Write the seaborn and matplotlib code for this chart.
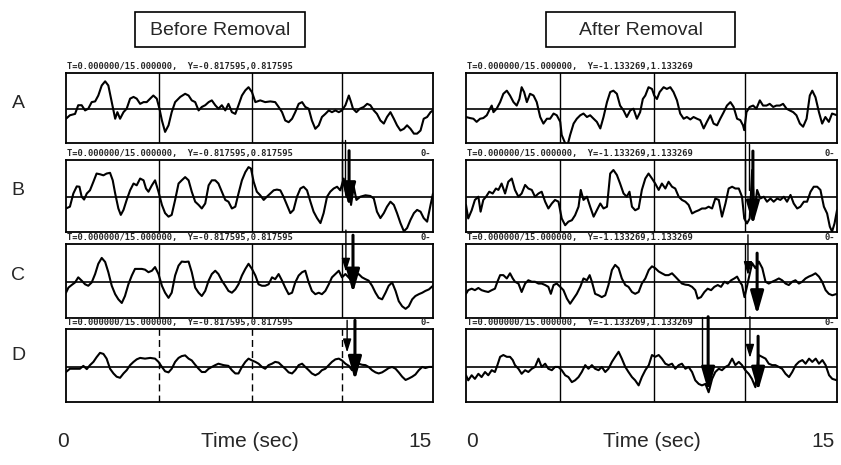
import matplotlib
matplotlib.use("Agg")
import matplotlib.pyplot as plt
import seaborn as sns
import pandas as pd
from matplotlib.patches import Rectangle

# ---------------- data (time in s, amplitude as fraction of full scale) -------------
A_BEFORE = [(0.00,-0.27),(0.16,-0.17),(0.37,-0.13),(0.50,0.12),(0.64,0.12),(0.78,-0.03),(0.91,0.02),
    (1.05,0.21),(1.19,0.23),(1.32,0.40),(1.46,0.69),(1.60,0.81),(1.73,0.69),(1.87,0.21),(2.01,-0.27),
    (2.10,-0.08),(2.21,-0.27),(2.35,-0.08),(2.48,0.02),(2.62,0.31),(2.76,0.36),(2.89,0.31),(3.03,0.16),
    (3.17,0.21),(3.30,0.21),(3.44,0.31),(3.57,0.40),(3.71,0.31),(3.82,0.02),(3.92,-0.32),(4.05,-0.65),
    (4.19,-0.46),(4.32,-0.08),(4.46,0.21),(4.67,0.36),(4.87,0.45),(5.01,0.40),(5.14,0.26),(5.28,0.21),
    (5.42,-0.03),(5.55,0.07),(5.69,0.12),(5.83,0.21),(5.96,0.26),(6.10,0.12),(6.23,0.02),(6.37,0.12),
    (6.51,-0.03),(6.64,0.16),(6.78,-0.08),(6.92,-0.13),(7.05,0.12),(7.19,0.40),(7.33,0.55),(7.46,0.64),
    (7.60,0.50),(7.74,0.21),(7.94,0.26),(8.14,0.21),(8.35,0.23),(8.55,0.21),(8.69,0.07),(8.83,-0.08),
    (8.96,-0.32),(9.10,-0.37),(9.24,-0.27),(9.37,-0.08),(9.51,0.16),(9.65,0.21),(9.78,0.07),(9.92,0.02),
    (10.05,-0.32),(10.19,-0.56),(10.33,-0.46),(10.46,-0.22),(10.60,-0.13),(10.74,-0.03),(10.87,-0.08),
    (11.01,-0.03),(11.15,-0.08),(11.28,-0.03),(11.42,0.12),(11.56,0.40),(11.65,0.21),(11.73,0.02),
    (11.87,-0.08),(12.01,0.02),(12.17,0.07),(12.31,0.16),(12.44,0.12),(12.58,-0.03),(12.71,-0.13),
    (12.85,-0.32),(12.99,-0.41),(13.12,-0.22),(13.26,-0.08),(13.40,-0.27),(13.53,-0.46),(13.67,-0.61),
    (13.81,-0.56),(13.94,-0.46),(14.08,-0.56),(14.22,-0.70),(14.35,-0.70),(14.49,-0.61),(14.62,-0.27),
    (14.76,-0.22),(14.90,-0.08),(15.00,-0.03)]

B_BEFORE = [(0.00,-0.31),(0.16,-0.26),(0.30,0.11),(0.44,0.31),(0.55,0.30),(0.64,0.02),(0.74,-0.06),
    (0.85,0.11),(0.98,0.20),(1.12,0.44),(1.25,0.67),(1.39,0.65),(1.53,0.62),(1.66,0.67),(1.80,0.69),
    (1.91,0.48),(2.01,0.11),(2.14,-0.31),(2.24,-0.49),(2.35,-0.35),(2.48,-0.07),(2.62,0.20),(2.76,0.39),
    (2.89,0.34),(3.03,0.53),(3.17,0.48),(3.27,0.25),(3.37,0.16),(3.51,0.34),(3.64,0.48),(3.78,0.16),
    (3.92,-0.21),(4.05,-0.44),(4.19,-0.54),(4.32,-0.49),(4.46,-0.07),(4.60,0.39),(4.73,0.48),(4.87,0.57),
    (5.01,0.48),(5.14,0.16),(5.28,-0.12),(5.42,-0.21),(5.55,-0.31),(5.69,-0.17),(5.83,0.34),(5.96,0.48),
    (6.10,0.48),(6.23,0.39),(6.37,0.16),(6.51,-0.07),(6.64,-0.12),(6.78,-0.31),(6.92,-0.26),(7.05,0.11),
    (7.19,0.48),(7.33,0.71),(7.46,0.85),(7.56,0.81),(7.67,0.44),(7.80,0.16),(7.94,0.06),(8.08,-0.07),
    (8.21,0.02),(8.35,0.11),(8.49,0.20),(8.62,0.22),(8.76,0.20),(8.89,0.02),(9.03,-0.21),(9.17,-0.44),
    (9.30,-0.35),(9.44,0.02),(9.58,0.25),(9.71,0.30),(9.85,0.20),(9.99,-0.12),(10.12,-0.40),(10.26,-0.58),
    (10.40,-0.72),(10.53,-0.44),(10.67,0.02),(10.80,0.16),(10.94,0.25),(11.08,0.30),(11.21,0.20),
    (11.35,0.53),(11.46,0.02),(11.56,0.39),(11.65,-0.21),(11.76,0.30),(11.87,-0.07),(12.03,0.02),
    (12.24,0.06),(12.44,0.04),(12.58,-0.03),(12.71,-0.40),(12.85,-0.58),(12.99,-0.44),(13.12,-0.26),
    (13.26,-0.12),(13.40,-0.21),(13.53,-0.44),(13.67,-0.72),(13.81,-0.95),(13.94,-0.86),(14.08,-0.63),
    (14.22,-0.44),(14.35,-0.35),(14.49,-0.40),(14.62,-0.58),(14.76,-0.68),(14.90,-0.21),(15.00,0.11)]

C_BEFORE = [(0.00,-0.28),(0.10,-0.14),(0.23,-0.07),(0.37,0.00),(0.50,0.14),(0.64,0.05),(0.78,-0.05),
    (0.91,-0.09),(1.05,0.00),(1.19,0.23),(1.32,0.51),(1.46,0.67),(1.60,0.56),(1.73,0.28),(1.87,-0.09),
    (2.01,-0.32),(2.14,-0.46),(2.28,-0.56),(2.41,-0.37),(2.55,-0.05),(2.69,0.19),(2.82,0.37),(2.96,0.37),
    (3.10,0.37),(3.23,0.35),(3.37,0.28),(3.51,0.32),(3.64,0.42),(3.78,0.23),(3.92,-0.09),(4.05,-0.28),
    (4.19,-0.42),(4.32,-0.28),(4.46,0.19),(4.60,0.46),(4.73,0.57),(4.87,0.56),(5.01,0.57),(5.14,0.28),
    (5.28,-0.14),(5.42,-0.28),(5.55,-0.37),(5.69,-0.23),(5.83,0.05),(5.96,0.23),(6.10,0.32),(6.23,0.23),
    (6.37,0.05),(6.51,-0.09),(6.64,-0.23),(6.78,-0.28),(6.92,-0.19),(7.05,-0.05),(7.19,0.19),(7.33,0.37),
    (7.46,0.51),(7.60,0.37),(7.74,0.19),(7.87,-0.05),(8.01,-0.09),(8.14,-0.09),(8.28,-0.05),(8.42,0.14),
    (8.55,0.09),(8.69,0.23),(8.83,0.05),(8.96,-0.14),(9.10,-0.32),(9.24,-0.28),(9.37,0.00),(9.51,0.19),
    (9.65,0.28),(9.78,0.32),(9.92,0.00),(10.05,-0.23),(10.19,-0.32),(10.33,-0.28),(10.46,-0.32),
    (10.60,-0.23),(10.74,-0.05),(10.87,0.14),(11.01,0.23),(11.15,0.32),(11.28,0.14),(11.42,0.23),
    (11.62,0.09),(11.83,0.19),(11.96,0.23),(12.10,0.14),(12.24,0.09),(12.37,0.05),(12.51,-0.09),
    (12.65,-0.28),(12.78,-0.42),(12.92,-0.46),(13.06,-0.28),(13.19,-0.09),(13.33,0.00),(13.47,-0.23),
    (13.60,-0.51),(13.74,-0.65),(13.88,-0.72),(14.01,-0.65),(14.15,-0.46),(14.28,-0.37),(14.42,-0.32),
    (14.56,-0.28),(14.69,-0.23),(14.83,-0.19),(15.00,-0.09)]

D_BEFORE = [(0.00,-0.14),(0.16,-0.05),(0.37,-0.05),(0.57,-0.05),(0.71,0.03),(0.85,-0.06),(0.98,0.05),
    (1.12,0.14),(1.25,0.27),(1.39,0.39),(1.53,0.36),(1.66,0.23),(1.80,-0.05),(1.94,-0.18),(2.07,-0.27),
    (2.21,-0.30),(2.35,-0.18),(2.48,-0.09),(2.62,0.05),(2.76,0.14),(2.89,0.21),(3.03,0.25),(3.23,0.23),
    (3.44,0.25),(3.64,0.23),(3.78,0.14),(3.92,0.00),(4.05,-0.12),(4.19,-0.15),(4.32,-0.05),(4.46,0.14),
    (4.60,0.25),(4.73,0.30),(4.87,0.32),(5.01,0.23),(5.14,0.18),(5.28,0.06),(5.42,-0.05),(5.55,-0.14),
    (5.69,-0.14),(5.83,-0.05),(5.96,0.00),(6.10,0.05),(6.23,0.09),(6.44,0.05),(6.64,0.03),(6.78,-0.09),
    (6.92,-0.18),(7.05,-0.18),(7.19,0.00),(7.33,0.14),(7.46,0.23),(7.60,0.18),(7.74,0.14),(7.87,0.09),
    (8.01,0.00),(8.14,-0.05),(8.28,0.05),(8.42,0.09),(8.55,0.14),(8.69,0.12),(8.83,0.03),(8.96,-0.05),
    (9.10,-0.15),(9.24,-0.18),(9.37,-0.09),(9.51,0.05),(9.65,0.09),(9.78,0.00),(9.92,-0.09),(10.05,-0.18),
    (10.19,-0.23),(10.33,-0.18),(10.46,-0.09),(10.60,-0.05),(10.74,0.05),(10.87,0.14),(11.01,0.21),
    (11.15,0.23),(11.28,0.18),(11.42,0.09),(11.56,0.03),(11.69,-0.09),(11.83,0.05),(11.96,0.09),
    (12.10,0.06),(12.24,0.05),(12.37,0.00),(12.51,-0.09),(12.65,-0.15),(12.78,-0.18),(12.92,-0.15),
    (13.06,-0.09),(13.19,-0.03),(13.33,0.00),(13.47,-0.05),(13.60,-0.15),(13.74,-0.27),(13.88,-0.36),
    (14.01,-0.32),(14.15,-0.27),(14.28,-0.21),(14.42,-0.09),(14.56,0.00),(14.69,-0.03),(14.83,0.00),
    (15.00,0.00)]

A_AFTER = [(0.00,-0.22),(0.16,-0.25),(0.30,-0.27),(0.43,-0.36),(0.57,-0.27),(0.70,-0.25),(0.84,-0.17),
    (0.97,0.02),(1.04,0.11),(1.11,-0.08),(1.24,0.02),(1.38,0.21),(1.51,0.45),(1.65,0.54),(1.78,0.40),
    (1.92,0.21),(2.05,0.11),(2.16,0.30),(2.25,0.64),(2.35,0.50),(2.46,0.21),(2.59,0.45),(2.73,0.40),
    (2.86,0.21),(3.00,-0.22),(3.13,-0.41),(3.27,-0.27),(3.40,-0.27),(3.54,-0.12),(3.67,-0.17),(3.81,-0.36),
    (3.87,-0.74),(4.01,-0.98),(4.10,-1.05),(4.21,-0.74),(4.35,-0.41),(4.48,-0.27),(4.62,-0.17),(4.75,-0.12),
    (4.89,-0.22),(5.02,-0.17),(5.16,-0.27),(5.29,-0.36),(5.43,-0.55),(5.56,-0.22),(5.70,0.21),(5.83,0.50),
    (5.96,0.54),(6.10,0.45),(6.23,0.11),(6.37,-0.03),(6.50,-0.22),(6.64,-0.03),(6.77,0.02),(6.91,-0.27),
    (7.04,-0.08),(7.15,0.30),(7.25,0.40),(7.38,0.64),(7.52,0.59),(7.61,0.40),(7.72,0.30),(7.83,0.50),
    (7.99,0.64),(8.12,0.59),(8.26,0.64),(8.39,0.50),(8.53,0.26),(8.66,-0.12),(8.80,-0.27),(8.93,-0.22),
    (9.07,-0.29),(9.20,-0.22),(9.34,-0.27),(9.47,-0.31),(9.61,-0.55),(9.74,-0.36),(9.88,-0.17),
    (10.01,-0.41),(10.15,-0.46),(10.28,-0.27),(10.42,-0.08),(10.55,0.11),(10.69,0.21),(10.82,0.07),
    (10.96,-0.27),(11.09,-0.31),(11.20,-0.46),(11.25,-0.60),(11.34,-0.08),(11.47,0.07),(11.61,0.11),
    (11.74,0.02),(11.88,0.26),(12.01,0.11),(12.15,0.11),(12.28,0.16),(12.42,0.07),(12.55,0.11),
    (12.69,0.11),(12.82,0.16),(12.96,0.02),(13.09,-0.03),(13.23,-0.08),(13.36,-0.17),(13.50,-0.41),
    (13.63,-0.50),(13.77,-0.27),(13.90,0.40),(14.00,0.54),(14.13,0.35),(14.27,-0.08),(14.40,-0.41),
    (14.53,-0.22),(14.67,-0.36),(14.80,-0.12),(15.00,-0.17)]

B_AFTER = [(0.00,-0.21),(0.09,-0.59),(0.23,-0.36),(0.36,-0.07),(0.50,0.02),(0.59,-0.40),(0.70,-0.07),
    (0.81,0.02),(0.94,0.16),(1.08,0.11),(1.21,0.25),(1.31,0.21),(1.44,0.39),(1.58,0.11),(1.71,0.44),
    (1.85,0.53),(1.98,0.21),(2.12,0.02),(2.25,0.11),(2.39,0.35),(2.52,0.25),(2.66,0.21),(2.79,0.02),
    (2.93,0.11),(3.06,0.16),(3.20,-0.12),(3.33,-0.31),(3.47,-0.17),(3.60,-0.07),(3.74,-0.12),(3.87,-0.59),
    (4.01,-0.78),(4.14,-0.68),(4.28,-0.64),(4.41,-0.50),(4.55,-0.26),(4.64,0.21),(4.75,-0.07),(4.89,0.02),
    (5.02,-0.26),(5.16,-0.54),(5.29,-0.36),(5.43,-0.17),(5.56,-0.31),(5.70,-0.26),(5.83,0.67),(5.96,0.77),
    (6.10,0.63),(6.23,0.39),(6.37,0.11),(6.50,0.02),(6.61,0.16),(6.71,-0.26),(6.84,-0.36),(6.98,-0.31),
    (7.11,0.21),(7.25,0.53),(7.38,0.67),(7.52,0.53),(7.65,0.39),(7.79,0.21),(7.92,0.39),(8.06,0.25),
    (8.19,0.44),(8.33,0.30),(8.46,0.25),(8.60,0.02),(8.73,-0.07),(8.87,-0.12),(9.00,-0.21),(9.14,-0.45),
    (9.27,-0.40),(9.41,-0.36),(9.54,-0.31),(9.68,-0.31),(9.81,-0.26),(9.95,-0.31),(10.08,-0.03),
    (10.22,-0.07),(10.35,-0.54),(10.49,-0.17),(10.62,0.25),(10.76,0.30),(10.89,0.25),(11.03,0.25),
    (11.16,0.02),(11.25,-0.59),(11.36,-0.73),(11.47,-0.59),(11.57,0.77),(11.66,-0.45),(11.77,0.21),
    (11.90,-0.03),(12.04,0.02),(12.17,-0.12),(12.31,-0.03),(12.44,-0.12),(12.58,-0.03),(12.71,-0.07),
    (12.85,0.02),(12.98,-0.12),(13.12,0.07),(13.25,-0.17),(13.39,-0.31),(13.52,-0.26),(13.66,-0.12),
    (13.79,-0.12),(13.93,0.16),(14.06,0.30),(14.20,0.30),(14.33,0.21),(14.47,-0.26),(14.60,-0.45),
    (14.71,-0.82),(14.80,-0.96),(14.90,-0.73),(15.00,-0.36)]

C_AFTER = [(0.00,-0.31),(0.09,-0.21),(0.23,-0.17),(0.36,-0.21),(0.50,-0.15),(0.63,-0.21),(0.77,-0.24),
    (0.90,-0.26),(1.04,-0.21),(1.17,-0.17),(1.27,0.02),(1.38,0.20),(1.51,0.20),(1.65,0.11),(1.78,0.25),
    (1.89,0.11),(1.98,0.02),(2.12,-0.03),(2.25,-0.26),(2.39,-0.03),(2.52,0.06),(2.66,0.02),(2.79,0.02),
    (2.93,-0.03),(3.06,-0.03),(3.20,-0.07),(3.33,-0.12),(3.43,-0.31),(3.54,-0.07),(3.67,-0.03),(3.81,-0.12),
    (3.94,-0.21),(4.08,-0.44),(4.21,-0.58),(4.35,-0.44),(4.48,-0.31),(4.62,-0.12),(4.75,0.11),(4.89,0.06),
    (5.00,0.20),(5.09,0.02),(5.22,-0.31),(5.36,-0.35),(5.49,-0.40),(5.63,-0.35),(5.76,-0.07),(5.90,0.34),
    (6.03,0.48),(6.17,0.39),(6.30,0.11),(6.44,-0.07),(6.57,-0.12),(6.71,-0.26),(6.84,-0.31),(6.98,-0.26),
    (7.11,-0.03),(7.25,0.11),(7.39,0.34),(7.52,0.44),(7.65,0.39),(7.79,0.30),(7.92,0.25),(8.06,0.20),
    (8.19,0.20),(8.33,0.25),(8.46,0.16),(8.60,0.06),(8.73,-0.03),(8.87,-0.06),(9.00,-0.07),(9.14,-0.12),
    (9.27,-0.21),(9.37,-0.44),(9.50,-0.40),(9.64,-0.26),(9.77,-0.17),(9.91,-0.21),(10.04,-0.12),
    (10.18,-0.07),(10.31,-0.12),(10.45,0.02),(10.58,-0.03),(10.72,0.06),(10.85,0.11),(10.96,0.16),
    (11.07,0.02),(11.16,-0.07),(11.26,-0.40),(11.34,-0.17),(11.43,0.11),(11.57,0.53),(11.70,0.39),
    (11.84,0.57),(11.98,0.39),(12.11,0.02),(12.24,-0.03),(12.38,0.02),(12.51,0.06),(12.65,0.11),
    (12.78,0.06),(12.92,-0.03),(13.05,-0.07),(13.19,0.02),(13.32,0.06),(13.46,-0.03),(13.59,0.02),
    (13.73,0.11),(13.86,0.16),(14.00,0.20),(14.13,0.25),(14.27,0.16),(14.40,0.02),(14.54,-0.21),
    (14.67,-0.31),(14.81,-0.35),(15.00,-0.31)]

D_AFTER = [(0.00,-0.23),(0.09,-0.37),(0.23,-0.23),(0.36,-0.33),(0.50,-0.19),(0.63,-0.28),(0.77,-0.14),
    (0.90,-0.23),(1.04,-0.09),(1.17,-0.14),(1.27,0.05),(1.38,0.28),(1.51,0.33),(1.65,0.28),(1.78,0.28),
    (1.89,0.19),(1.98,0.05),(2.12,-0.05),(2.25,-0.19),(2.39,-0.09),(2.52,-0.14),(2.66,-0.05),(2.79,0.00),
    (2.93,0.23),(3.06,0.00),(3.20,0.09),(3.33,-0.05),(3.47,-0.09),(3.60,0.00),(3.74,0.00),(3.87,-0.09),
    (4.01,-0.23),(4.14,-0.28),(4.28,-0.42),(4.41,-0.37),(4.55,-0.28),(4.68,-0.14),(4.82,0.05),(4.95,-0.05),
    (5.09,0.05),(5.22,-0.05),(5.36,-0.09),(5.49,0.00),(5.63,-0.14),(5.76,-0.05),(5.90,0.14),(6.03,0.28),
    (6.17,0.42),(6.30,0.23),(6.44,0.00),(6.57,-0.14),(6.71,-0.28),(6.84,-0.37),(6.98,-0.51),(7.11,-0.28),
    (7.25,-0.09),(7.39,0.05),(7.52,0.33),(7.65,0.28),(7.79,0.33),(7.92,0.23),(8.06,0.09),(8.19,0.05),
    (8.33,0.09),(8.46,-0.05),(8.60,0.05),(8.73,0.09),(8.87,-0.05),(9.00,0.00),(9.14,-0.14),(9.27,-0.37),
    (9.41,-0.47),(9.54,-0.51),(9.68,-0.47),(9.81,-0.70),(9.95,-0.33),(10.08,-0.14),(10.22,-0.05),
    (10.35,-0.09),(10.49,0.00),(10.62,0.05),(10.76,0.23),(10.89,0.05),(11.03,0.14),(11.16,0.05),
    (11.29,-0.09),(11.43,-0.19),(11.56,-0.33),(11.70,-0.56),(11.83,0.33),(11.97,0.28),(12.11,0.23),
    (12.24,0.09),(12.38,0.05),(12.51,0.05),(12.65,0.00),(12.78,-0.05),(12.92,-0.19),(13.06,-0.28),
    (13.19,-0.14),(13.33,0.05),(13.46,0.14),(13.60,0.19),(13.73,0.09),(13.87,0.23),(14.00,0.14),
    (14.14,0.23),(14.27,0.09),(14.41,0.19),(14.54,0.05),(14.68,-0.23),(14.81,-0.33),(15.00,-0.37)]

ROW_LABELS = ["A", "B", "C", "D"]
COLUMN_TITLES = ["Before Removal", "After Removal"]
HEADERS = ["T=0.000000/15.000000,  Y=-0.817595,0.817595",
           "T=0.000000/15.000000,  Y=-1.133269,1.133269"]
TRACES = [[A_BEFORE, B_BEFORE, C_BEFORE, D_BEFORE],
          [A_AFTER, B_AFTER, C_AFTER, D_AFTER]]
GRID_TIMES = [3.8, 7.6, 11.3]
TIME_LABELS = ["0", "Time (sec)", "15"]

# arrows: (column, row, time, tail, tip, kind)
ARROWS = [
    (0, 1, 11.57, 1.31, -0.26, "thick"), (0, 1, 11.28, 1.60, 0.17, "line"), (0, 1, 11.41, 1.60, 0.30, "line"),
    (0, 2, 11.73, 1.29, -0.29, "thick"), (0, 2, 11.44, 1.43, 0.29, "thin"),
    (0, 3, 11.81, 1.29, -0.37, "thick"), (0, 3, 11.49, 1.29, 0.40, "thin"),
    (1, 1, 11.60, 1.30, -0.77, "thick"), (1, 1, 11.30, 1.50, 0.10, "line"), (1, 1, 11.45, 1.50, 0.20, "line"),
    (1, 2, 11.40, 1.30, 0.20, "thin"), (1, 2, 11.77, 0.80, -0.88, "thick"),
    (1, 3, 9.79, 1.39, -0.67, "thick"), (1, 3, 9.54, 1.39, 0.00, "line"),
    (1, 3, 11.48, 1.39, 0.25, "thin"), (1, 3, 11.81, 0.85, -0.67, "thick"),
]

# ---------------- layout ----------------
W, H = 841, 465
COL_X = [(66, 433), (466, 837)]
ROW_Y = [(73, 143), (160, 232), (244, 318), (329, 402)]

sns.set_theme(style="white")
plt.rcParams["font.family"] = ["Liberation Sans", "DejaVu Sans"]

fig = plt.figure(figsize=(W / 100, H / 100), dpi=100)
fig.patch.set_facecolor("white")


def fx(x):
    return x / W


def fy(y):
    return 1 - y / H


axes = {}
for ci, (x0, x1) in enumerate(COL_X):
    for ri, (y0, y1) in enumerate(ROW_Y):
        ax = fig.add_axes([fx(x0), fy(y1), (x1 - x0) / W, (y1 - y0) / H])
        ax.set_facecolor("none")
        df = pd.DataFrame(TRACES[ci][ri], columns=["t", "v"])
        ls = (0, (5, 3)) if (ci == 0 and ri == 3) else "-"
        for gt in GRID_TIMES:
            ax.axvline(gt, color="black", lw=1.0, ls=ls, zorder=1)
        ax.axhline(0, color="black", lw=1.2, zorder=1)
        sns.lineplot(data=df, x="t", y="v", ax=ax, color="black", lw=1.5,
                     estimator=None, sort=False, zorder=3)
        ax.set_xlim(0, 15)
        ax.set_ylim(-0.97, 1.05)
        ax.set_xticks([])
        ax.set_yticks([])
        ax.set_xlabel("")
        ax.set_ylabel("")
        for sp in ax.spines.values():
            sp.set_visible(True)
            sp.set_color("black")
            sp.set_linewidth(1.3)
        axes[(ci, ri)] = ax
        # header line above each panel
        fig.text(fx(x0 + 1), fy(y0 - 7), HEADERS[ci], fontsize=6.3,
                 family="DejaVu Sans Mono", weight="bold", ha="left", va="center")
        if ri > 0:
            fig.text(fx(x1 - 2), fy(y0 - 7), "0-", fontsize=6.3,
                     family="DejaVu Sans Mono", weight="bold", ha="right", va="center")

# arrows
for ci, ri, t, tail, tip, kind in ARROWS:
    ax = axes[(ci, ri)]
    if kind == "line":
        ax.plot([t, t], [tail, tip], color="black", lw=1.0, clip_on=False, zorder=4)
    elif kind == "thin":
        ax.annotate("", xy=(t, tip), xytext=(t, tail), xycoords="data", textcoords="data",
                    annotation_clip=False,
                    arrowprops=dict(arrowstyle="-|>,head_length=0.8,head_width=0.25",
                                    color="black", lw=1.0, shrinkA=0, shrinkB=0,
                                    mutation_scale=10))
    else:
        ax.annotate("", xy=(t, tip), xytext=(t, tail), xycoords="data", textcoords="data",
                    annotation_clip=False,
                    arrowprops=dict(arrowstyle="-|>,head_length=1.4,head_width=0.4",
                                    color="black", lw=2.2, shrinkA=0, shrinkB=0,
                                    mutation_scale=10))

# column titles in boxes
TITLE_BOX = [(135, 12, 305, 47), (546, 12, 735, 47)]
for (bx0, by0, bx1, by1), title in zip(TITLE_BOX, COLUMN_TITLES):
    fig.add_artist(Rectangle((fx(bx0), fy(by1)), (bx1 - bx0) / W, (by1 - by0) / H,
                             transform=fig.transFigure, fill=False, ec="black", lw=1.2))
    fig.text(fx((bx0 + bx1) / 2), fy((by0 + by1) / 2 + 1), title, ha="center", va="center",
             fontsize=14)

# row labels
ROW_LABEL_Y = [103, 190, 275, 355]
for lab, yy in zip(ROW_LABELS, ROW_LABEL_Y):
    fig.text(fx(18), fy(yy), lab, ha="center", va="center", fontsize=14)

# time axis labels
BOTTOM_X = [(63, 250, 420), (472, 652, 823)]
for xs in BOTTOM_X:
    for xx, lab in zip(xs, TIME_LABELS):
        fig.text(fx(xx), fy(441), lab, ha="center", va="center", fontsize=15)

fig.savefig("out.png", dpi=100, facecolor="white")
